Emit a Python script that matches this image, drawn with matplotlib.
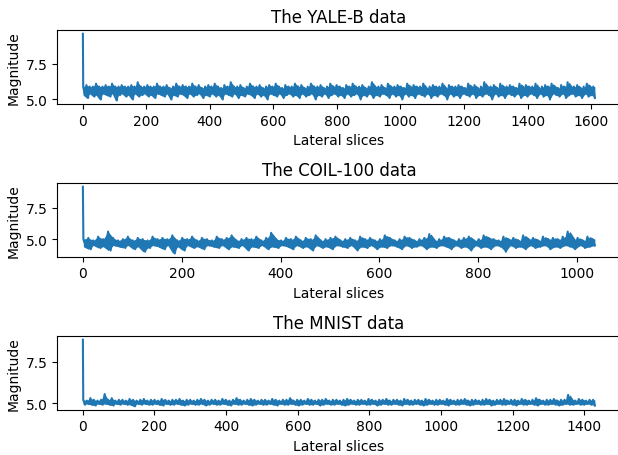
import numpy as np
import matplotlib
matplotlib.use("Agg")
import matplotlib.pyplot as plt

# number of lateral slices per dataset
yale_slices = 1612
coil_slices = 1036
mnist_slices = 1430

# magnitude of the first slice (the spike)
yale_first = 9.58
coil_first = 9.15
mnist_first = 8.84

# lower / upper swing of the magnitude, read per chunk of ~10 slices
yale_low = [
    5.3, 5.1, 5.4, 5.2, 5.3, 5.0, 5.4, 5.3, 5.2, 5.4, 4.93, 5.3, 5.4, 5.2, 5.3, 5.0, 5.4, 5.2, 5.3, 5.4,
    5.2, 5.3, 5.1, 5.4, 5.3, 5.2, 5.4, 5.0, 5.3, 5.2, 5.4, 5.3, 5.1, 5.4, 5.2, 5.3, 5.4, 5.1, 5.3, 5.2,
    5.4, 5.2, 5.3, 5.0, 5.4, 5.3, 5.2, 5.4, 5.1, 5.3, 5.2, 5.4, 5.3, 5.1, 5.4, 5.2, 5.3, 5.0, 5.4, 5.3,
    5.2, 5.4, 5.1, 5.3, 5.4, 5.2, 5.3, 5.1, 5.4, 5.2, 5.3, 5.4, 5.0, 5.3, 5.2, 5.4, 5.1, 5.3, 5.4, 5.2,
    5.3, 5.1, 5.4, 5.2, 5.3, 5.4, 5.0, 5.3, 5.2, 5.4, 5.1, 5.3, 5.2, 5.4, 5.3, 5.1, 5.4, 5.2, 5.3, 5.0,
    5.4, 5.2, 5.3, 5.1, 5.4, 5.3, 5.2, 5.4, 5.1, 5.3, 5.2, 5.4, 5.3, 5.0, 5.4, 5.2, 5.3, 5.1, 5.4, 5.3,
    5.2, 5.4, 5.1, 5.3, 5.2, 5.4, 5.3, 5.0, 5.4, 5.2, 5.3, 5.1, 5.4, 5.3, 5.2, 5.4, 5.1, 5.3, 5.2, 5.4,
    5.3, 5.1, 5.4, 5.2, 5.3, 5.0, 5.4, 5.3, 5.2, 5.4, 5.1, 5.3, 5.4, 5.2, 5.3, 5.1, 5.4, 5.2, 5.3, 5.1]
yale_high = [
    5.9, 6.0, 5.9, 5.9, 6.1, 5.9, 5.9, 6.0, 5.9, 6.1, 5.9, 5.9, 6.0, 5.9, 5.9, 6.0, 5.9, 6.2, 5.9, 5.9,
    6.0, 5.9, 5.9, 6.1, 5.9, 5.9, 6.0, 5.8, 5.9, 6.1, 5.9, 6.0, 5.9, 5.9, 6.1, 5.9, 6.0, 5.8, 5.9, 6.0,
    5.9, 6.1, 5.9, 5.8, 6.0, 5.9, 6.2, 5.9, 5.9, 6.0, 5.8, 5.9, 6.1, 5.9, 5.9, 6.0, 5.8, 5.9, 6.0, 5.9,
    6.1, 5.9, 5.8, 6.0, 5.9, 5.9, 6.1, 5.9, 6.0, 5.8, 5.9, 6.1, 5.9, 5.9, 6.0, 5.8, 5.9, 6.1, 5.9, 6.0,
    5.9, 5.8, 6.0, 5.9, 6.1, 5.9, 5.9, 6.0, 5.8, 5.9, 6.2, 5.9, 5.9, 6.0, 5.8, 6.1, 5.9, 5.9, 6.0, 5.9,
    5.8, 6.1, 5.9, 6.0, 5.9, 5.9, 6.1, 5.8, 5.9, 6.0, 5.9, 5.9, 6.1, 5.8, 6.0, 5.9, 5.9, 6.0, 5.9, 5.8,
    6.1, 5.9, 6.0, 5.8, 5.9, 6.2, 5.9, 5.9, 6.0, 5.8, 6.1, 5.9, 5.9, 6.0, 5.9, 5.8, 6.1, 5.9, 6.0, 5.9,
    5.9, 6.1, 5.8, 5.9, 6.0, 5.9, 6.1, 5.9, 5.8, 6.0, 5.9, 6.2, 5.9, 5.9, 6.0, 5.8, 5.9, 6.1, 5.9, 5.9]

coil_low = [
    4.4, 4.2, 4.5, 4.3, 4.4, 4.1, 4.5, 4.4, 4.3, 4.5, 4.2, 4.4, 4.0, 4.3, 4.5, 4.4, 4.2, 4.5, 3.87, 4.4,
    4.1, 4.5, 4.3, 4.4, 4.2, 4.5, 4.4, 4.3, 4.5, 4.2, 4.4, 4.3, 4.5, 4.1, 4.4, 4.3, 4.5, 4.2, 4.4, 4.3,
    4.5, 4.4, 4.2, 4.5, 4.3, 4.4, 4.1, 4.5, 4.3, 4.4, 4.2, 4.5, 4.4, 4.3, 4.5, 4.1, 4.4, 4.3, 4.5, 4.2,
    4.4, 4.3, 4.5, 4.4, 4.2, 4.5, 4.3, 4.4, 4.5, 4.2, 4.4, 4.3, 4.5, 4.4, 4.2, 4.5, 4.3, 4.4, 4.1, 4.5,
    4.3, 4.4, 4.2, 4.5, 4.4, 4.0, 4.5, 4.3, 4.4, 4.2, 4.5, 4.3, 4.4, 4.5, 4.2, 4.4, 4.3, 4.5, 4.4, 4.2,
    4.5, 4.3, 4.4, 4.5]
coil_high = [
    5.0, 5.1, 4.9, 5.2, 5.0, 5.6, 5.1, 4.9, 5.0, 5.2, 4.9, 5.1, 5.0, 4.9, 5.2, 5.0, 5.1, 5.0, 5.3, 4.9,
    5.1, 5.0, 5.2, 4.9, 5.1, 5.0, 4.9, 5.2, 5.0, 5.1, 5.3, 4.9, 5.0, 5.1, 5.0, 5.2, 4.9, 5.1, 5.5, 5.0,
    4.9, 5.1, 5.0, 5.2, 4.9, 5.1, 5.0, 5.3, 4.9, 5.0, 5.1, 5.2, 4.9, 5.0, 5.1, 4.9, 5.2, 5.0, 5.1, 4.9,
    5.0, 5.3, 5.1, 4.9, 5.0, 5.2, 5.1, 4.9, 5.0, 5.1, 5.4, 4.9, 5.0, 5.2, 5.1, 4.9, 5.0, 5.1, 5.2, 4.9,
    5.0, 5.3, 5.1, 5.0, 4.9, 5.2, 5.0, 5.1, 4.9, 5.3, 5.0, 5.1, 4.9, 5.2, 5.0, 5.1, 5.0, 5.2, 5.6, 5.0,
    5.1, 4.9, 5.2, 5.0]

mnist_low = [
    4.9, 4.95, 4.9, 4.85, 4.95, 4.9, 4.95, 4.9, 4.85, 4.95, 4.9, 4.95, 4.9, 4.9, 4.8, 4.95, 4.9, 4.95, 4.9, 4.9,
    4.95, 4.9, 4.85, 4.95, 4.9, 4.9, 4.95, 4.9, 4.85, 4.9, 4.95, 4.9, 4.9, 4.95, 4.85, 4.9, 4.95, 4.9, 4.9, 4.95,
    4.9, 4.85, 4.95, 4.9, 4.9, 4.95, 4.9, 4.85, 4.9, 4.95, 4.9, 4.9, 4.95, 4.9, 4.85, 4.95, 4.9, 4.9, 4.95, 4.9,
    4.85, 4.9, 4.95, 4.9, 4.9, 4.95, 4.85, 4.9, 4.95, 4.9, 4.9, 4.95, 4.9, 4.85, 4.9, 4.95, 4.9, 4.9, 4.95, 4.9,
    4.9, 4.95, 4.85, 4.9, 4.95, 4.9, 4.9, 4.95, 4.9, 4.85, 4.95, 4.9, 4.9, 4.95, 4.9, 4.85, 4.9, 4.95, 4.9, 4.9,
    4.95, 4.9, 4.85, 4.95, 4.9, 4.9, 4.95, 4.9, 4.85, 4.9, 4.95, 4.9, 4.9, 4.95, 4.85, 4.9, 4.95, 4.9, 4.9, 4.95,
    4.9, 4.85, 4.95, 4.9, 4.9, 4.95, 4.9, 4.85, 4.95, 4.9, 4.9, 4.95, 4.9, 4.85, 4.9, 4.95, 4.9, 4.9, 4.95, 4.9,
    4.9, 4.95, 4.9, 4.85]
mnist_high = [
    5.2, 5.15, 5.3, 5.2, 5.15, 5.2, 5.55, 5.2, 5.3, 5.15, 5.2, 5.2, 5.15, 5.25, 5.2, 5.15, 5.2, 5.25, 5.15, 5.2,
    5.2, 5.15, 5.25, 5.2, 5.15, 5.2, 5.2, 5.25, 5.15, 5.2, 5.2, 5.15, 5.2, 5.25, 5.2, 5.15, 5.2, 5.2, 5.15, 5.25,
    5.2, 5.15, 5.2, 5.3, 5.2, 5.15, 5.2, 5.25, 5.2, 5.15, 5.2, 5.2, 5.15, 5.25, 5.2, 5.15, 5.2, 5.2, 5.3, 5.15,
    5.2, 5.2, 5.15, 5.25, 5.2, 5.15, 5.2, 5.2, 5.25, 5.15, 5.2, 5.2, 5.15, 5.2, 5.25, 5.2, 5.15, 5.2, 5.2, 5.15,
    5.25, 5.2, 5.15, 5.2, 5.2, 5.25, 5.15, 5.2, 5.2, 5.15, 5.25, 5.2, 5.15, 5.2, 5.2, 5.15, 5.25, 5.2, 5.15, 5.2,
    5.2, 5.15, 5.25, 5.2, 5.15, 5.2, 5.2, 5.25, 5.15, 5.2, 5.2, 5.15, 5.2, 5.25, 5.2, 5.15, 5.2, 5.2, 5.25, 5.15,
    5.2, 5.2, 5.15, 5.25, 5.2, 5.15, 5.2, 5.3, 5.2, 5.15, 5.2, 5.2, 5.25, 5.15, 5.2, 5.2, 5.5, 5.2, 5.15, 5.25,
    5.2, 5.15, 5.2, 5.2]

datasets = [
    ("The YALE-B data", yale_slices, yale_first, yale_low, yale_high),
    ("The COIL-100 data", coil_slices, coil_first, coil_low, coil_high),
    ("The MNIST data", mnist_slices, mnist_first, mnist_low, mnist_high),
]

blue = "#1f77b4"
fig, axes = plt.subplots(3, 1, figsize=(6.18, 4.56), dpi=100)
fig.subplots_adjust(left=0.0927, right=1.004, top=0.931, bottom=0.0993, hspace=1.086)
for ax, (title, n, first, low, high) in zip(axes, datasets):
    # the signal swings high/low inside each chunk
    swing = np.column_stack([high, low]).ravel()
    xs = np.linspace(1, n, len(swing))
    ax.plot(np.concatenate([[0], xs]), np.concatenate([[first], swing]),
            color=blue, linewidth=1.5)
    # the oscillation is dense enough to read as a solid band
    xc = np.linspace(1, n, len(low))
    ax.fill_between(xc, low, high, color=blue, linewidth=0)
    ax.set_title(title)
    ax.set_xlabel("Lateral slices")
    ax.set_ylabel("Magnitude")
    ax.set_yticks([5.0, 7.5])

fig.savefig("out.png", dpi=100)
